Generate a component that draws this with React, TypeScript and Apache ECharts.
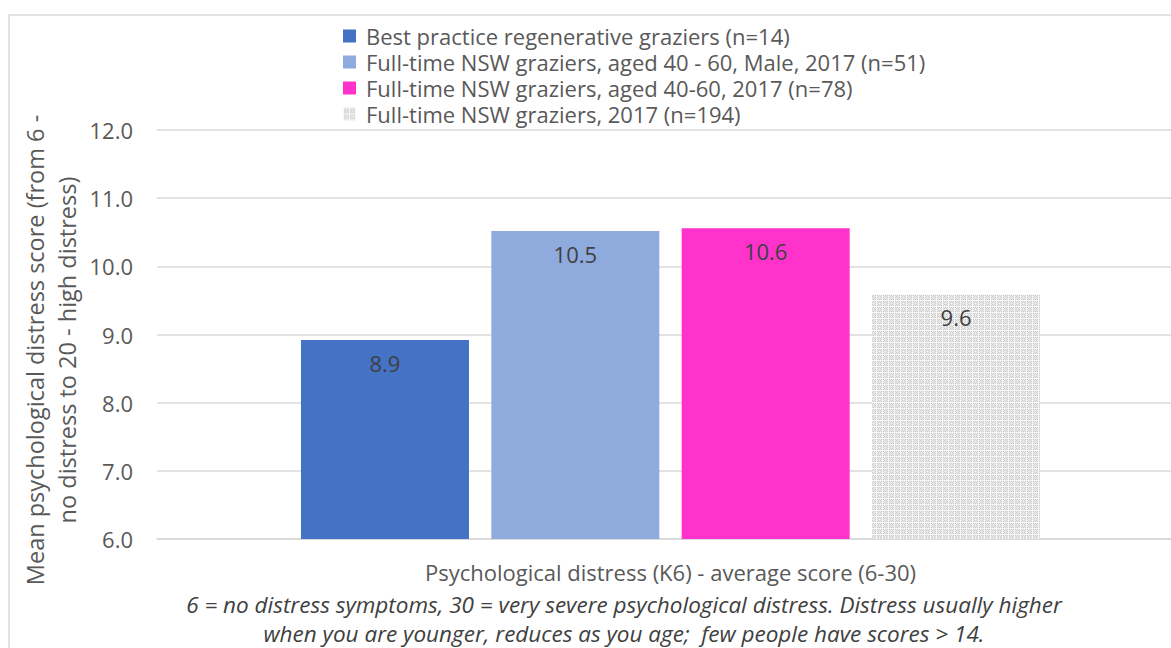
import React, { useEffect, useRef } from "react";
import * as echarts from "echarts";

const seriesNames = [
  "Best practice regenerative graziers (n=14)",
  "Full-time NSW graziers, aged 40 - 60, Male, 2017 (n=51)",
  "Full-time NSW graziers, aged 40-60, 2017 (n=78)",
  "Full-time NSW graziers, 2017 (n=194)",
];
const seriesValues = [8.92, 10.52, 10.56, 9.59];
const seriesColors = ["#4472C4", "#8FAADC", "#FF33CC", "pattern"];
const categories = ["Psychological distress (K6) - average score (6-30)"];
const yMin = 6;
const yMax = 12;
const yInterval = 1;
const yTitle = ["Mean psychological distress score (from 6 -", "no distress to 20 - high distress)"];
const xNote = [
  "6 = no distress symptoms, 30 = very severe psychological distress. Distress usually higher",
  "when you are younger, reduces as you age;  few people have scores > 14.",
];

function makePattern(): string {
  const c = document.createElement("canvas");
  c.width = 6;
  c.height = 6;
  const ctx = c.getContext("2d")!;
  ctx.fillStyle = "#ececec";
  ctx.fillRect(0, 0, 6, 6);
  ctx.fillStyle = "#cccccc";
  for (let y = 0; y < 6; y++) {
    for (let x = 0; x < 6; x++) {
      if ((x + y) % 2 === 0 && !(x === 3 && y === 3)) ctx.fillRect(x, y, 1, 1);
    }
  }
  ctx.fillStyle = "#f7f7f7";
  ctx.fillRect(0, 0, 6, 1);
  ctx.fillRect(0, 0, 1, 6);
  return c.toDataURL();
}

export default function App() {
  const ref = useRef<HTMLDivElement>(null);
  useEffect(() => {
    const chart = echarts.init(ref.current!, undefined, { renderer: "svg" });
    const pat = makePattern();
    const font = "Open Sans";
    chart.setOption({
      animation: false,
      backgroundColor: "#ffffff",
      textStyle: { fontFamily: font },
      legend: {
        orient: "vertical",
        left: 343,
        top: 25,
        padding: 0,
        itemWidth: 13,
        itemHeight: 13,
        itemGap: 4,
        icon: "rect",
        textStyle: { fontSize: 22, color: "#595959", fontFamily: font, padding: [0, 0, 0, 5] },
        data: seriesNames,
      },
      grid: { left: 157, top: 130, width: 1027, height: 409, containLabel: false },
      xAxis: {
        type: "category",
        data: categories,
        axisLine: { lineStyle: { color: "#d9d9d9", width: 1.5 } },
        axisTick: { show: false },
        axisLabel: { fontSize: 22, color: "#595959", margin: 22, fontFamily: font },
      },
      yAxis: {
        type: "value",
        min: yMin,
        max: yMax,
        interval: yInterval,
        axisLine: { show: false },
        axisTick: { show: false },
        splitLine: { lineStyle: { color: "#d9d9d9", width: 1.5 } },
        axisLabel: {
          fontSize: 22,
          color: "#595959",
          margin: 24,
          fontFamily: font,
          formatter: (v: number) => v.toFixed(1),
        },
      },
      series: seriesNames.map((name, i) => ({
        type: "bar",
        name,
        data: [seriesValues[i]],
        barWidth: 168,
        barGap: "13.3%",
        itemStyle: {
          color: seriesColors[i] === "pattern" ? { image: pat, repeat: "repeat" } : seriesColors[i],
        },
        label: {
          show: true,
          position: "insideTop",
          distance: 12,
          fontSize: 22,
          color: "#404040",
          fontFamily: font,
          formatter: (p: any) => Number(p.value).toFixed(1),
        },
      })),
      graphic: [
        {
          type: "rect",
          shape: { x: 9, y: 15, width: 1250, height: 700 },
          style: { fill: "none", stroke: "#d9d9d9", lineWidth: 1.5 },
          silent: true,
          z: -1,
        },
        {
          type: "text",
          x: 51,
          y: 350,
          rotation: Math.PI / 2,
          style: {
            text: yTitle.join("\n"),
            font: `23.5px ${font}`,
            fill: "#595959",
            align: "center",
            verticalAlign: "middle",
            lineHeight: 32,
          },
        },
        {
          type: "text",
          x: 624,
          y: 619,
          style: {
            text: xNote.join("\n"),
            font: `italic 22.5px ${font}`,
            fill: "#404040",
            align: "center",
            verticalAlign: "middle",
            lineHeight: 29,
          },
        },
      ],
    });
    return () => chart.dispose();
  }, []);
  return (
    <div
      ref={ref}
      style={{ position: "fixed", left: 0, top: 0, width: 1200, height: 648 }}
    />
  );
}
